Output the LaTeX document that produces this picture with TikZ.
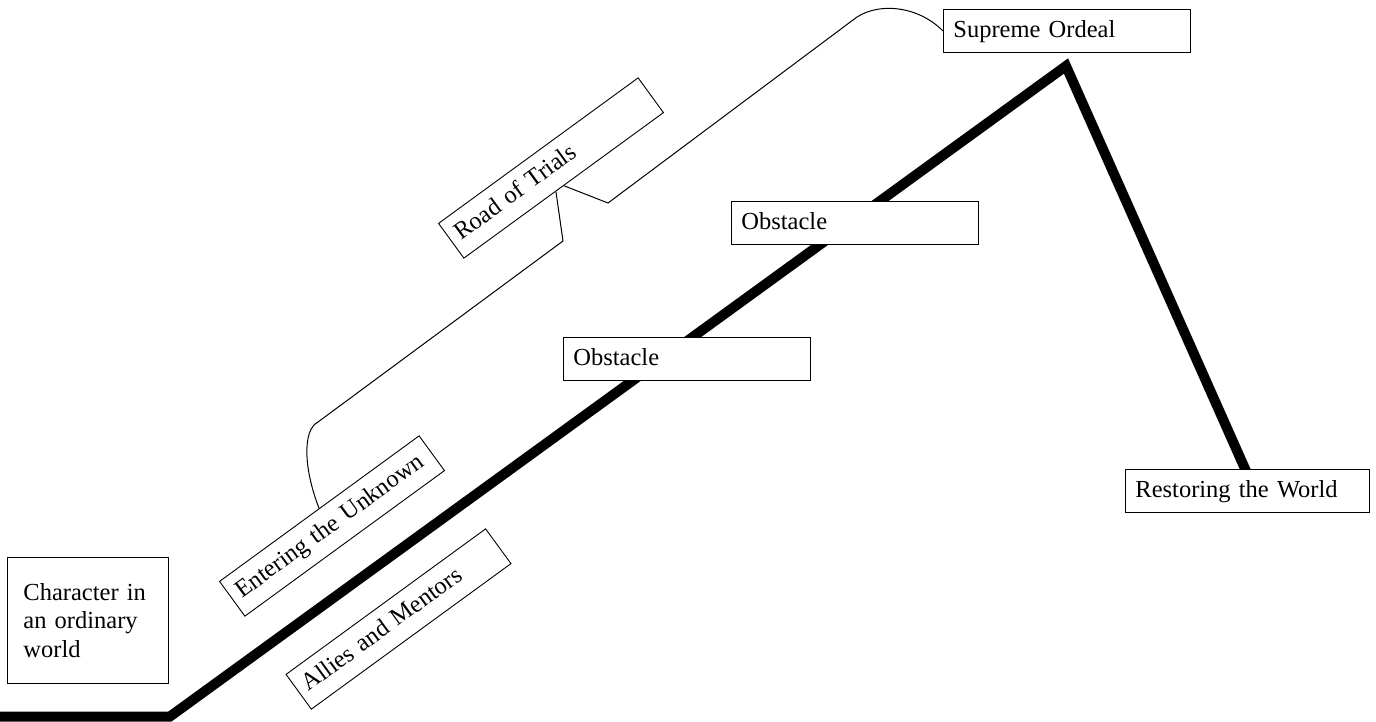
\documentclass[tikz,border=0pt]{standalone}
\usepackage{fontspec}
\setmainfont{Liberation Serif}
\usetikzlibrary{calc}
\pgfdeclarelayer{background}
\pgfsetlayers{background,main}
\begin{document}
\begin{tikzpicture}[x=1pt,y=-1pt,
  lbl/.style={draw, fill=white, line width=0.9pt, inner xsep=10pt, inner ysep=0pt,
    text width=227pt, minimum height=43pt, align=left,
    font=\fontsize{24.5}{28.5}\selectfont, text height=19pt, text depth=5pt},
  hbox/.style={lbl, anchor=north west},
  rbox/.style={lbl, anchor=center, rotate=36.1, inner xsep=8pt, text width=231pt,
    text height=17pt, text depth=5pt},
  path/.style={line width=10pt, miter limit=20},
  conn/.style={line width=1pt}]
\useasboundingbox (0,0) rectangle (1376,722);

\node[draw, fill=white, line width=0.9pt, anchor=north west, inner xsep=16pt,
  text width=129pt, minimum height=126pt, align=left,
  font=\fontsize{24.5}{28.5}\selectfont] (char) at (7,557)
  {Character in\\an ordinary\\world};
\node[rbox] (allies) at (398.5,619) {Allies and Mentors};
\node[rbox] (enter) at (332,526) {\mbox{Entering the Unknown}};
\node[rbox] (road) at (551,168) {Road of Trials};
\node[hbox] (obs1) at (563,337) {Obstacle};
\node[hbox] (obs2) at (731,201) {Obstacle};
\node[hbox] (sup) at (943,9) {Supreme Ordeal};
\node[hbox, text width=224pt] (rest) at (1125,469) {Restoring the World};

\coordinate (start) at (-6,716.5);
\coordinate (bend) at (170,716.5);
\coordinate (peak) at (1066,66);
\coordinate (foot) at (1250,480);
\coordinate (c1) at (318,422);
\coordinate (c2) at (563,241);
\coordinate (c4) at (608,203);
\coordinate (c5) at (853,20);

\begin{pgfonlayer}{background}
\draw[path] (start) -- (bend) -- (peak) -- (foot);
\draw[conn] (enter.north) .. controls (304,470) and (302,430) .. (c1) -- (c2)
  -- ($(road.south west)!0.46!(road.south east)$);
\draw[conn] (road.south) -- (c4) -- (c5) .. controls (873,3) and (915,3) .. (sup.west);
\end{pgfonlayer}
\end{tikzpicture}
\end{document}
